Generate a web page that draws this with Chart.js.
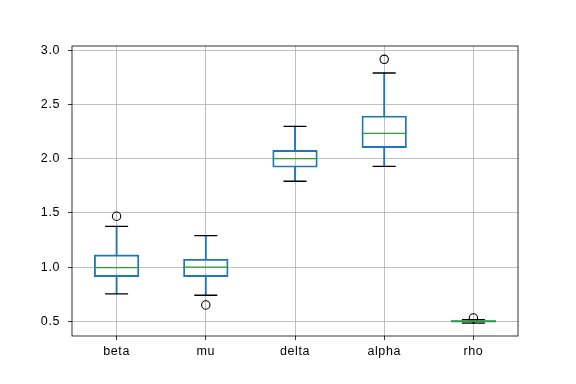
<!DOCTYPE html>
<html>
<head>
<meta charset="utf-8">
<script src="https://cdn.jsdelivr.net/npm/chart.js@4/dist/chart.umd.min.js"></script>
<style>
  html, body { margin: 0; padding: 0; background: #fff; }
</style>
</head>
<body>
<canvas id="c" width="576" height="384"></canvas>
<script>
// Box plot stats
const categories  = ['beta', 'mu', 'delta', 'alpha', 'rho'];
const whiskerLow  = [0.752, 0.740, 1.792, 1.930, 0.482];
const q1          = [0.912, 0.912, 1.921, 2.102, 0.492];
const median      = [0.995, 1.000, 2.000, 2.234, 0.500];
const q3          = [1.112, 1.072, 2.077, 2.394, 0.507];
const whiskerHigh = [1.376, 1.291, 2.299, 2.791, 0.515];
const outliers    = [1.469, 0.650, null, 2.917, 0.530];
const yTicks      = [0.5, 1.0, 1.5, 2.0, 2.5, 3.0];

const BLUE = '#1f77b4', GREEN = '#2ca02c';
const tickFont = { family: 'Liberation Sans', size: 12.5 };

// cadre noir autour de la zone du graphe (spines matplotlib)
const framePlugin = {
  id: 'frame',
  beforeInit(chart) { chart.ctx.letterSpacing = '0.6px'; },
  beforeDraw(chart) { chart.ctx.letterSpacing = '0.6px'; },
  afterDatasetsDraw(chart) {
    const { ctx, chartArea: a } = chart;
    ctx.save();
    ctx.strokeStyle = '#000';
    ctx.lineWidth = 0.8;
    ctx.strokeRect(a.left, a.top, a.right - a.left, a.bottom - a.top);
    ctx.restore();
  }
};

const pts = (arr, extra) => Object.assign({
  type: 'line', data: arr, showLine: false, fill: false,
  pointBackgroundColor: 'rgba(0,0,0,0)'
}, extra);

new Chart(document.getElementById('c').getContext('2d'), {
  type: 'bar',
  data: {
    labels: categories,
    datasets: [
      { data: categories.map((_, i) => [whiskerLow[i], q1[i]]), backgroundColor: BLUE,
        barThickness: 1.2, grouped: false, borderWidth: 0, order: 5 },
      { data: categories.map((_, i) => [q3[i], whiskerHigh[i]]), backgroundColor: BLUE,
        barThickness: 1.2, grouped: false, borderWidth: 0, order: 5 },
      { data: categories.map((_, i) => [q1[i], q3[i]]), backgroundColor: 'rgba(0,0,0,0)',
        borderColor: BLUE, borderWidth: 1.2, borderSkipped: false,
        barThickness: 44.6, grouped: false, order: 4 },
      pts(whiskerLow,  { pointStyle: 'line', pointRadius: 11.5, pointBorderColor: '#000', pointBorderWidth: 1.3, order: 3 }),
      pts(whiskerHigh, { pointStyle: 'line', pointRadius: 11.5, pointBorderColor: '#000', pointBorderWidth: 1.3, order: 3 }),
      pts(median,      { pointStyle: 'line', pointRadius: 22.3, pointBorderColor: GREEN, pointBorderWidth: 1.3, order: 1 }),
      pts(outliers,    { pointStyle: 'circle', pointRadius: 4.2, pointBorderColor: '#000', pointBorderWidth: 1.1, order: 2 })
    ]
  },
  options: {
    responsive: false,
    animation: false,
    layout: { padding: { top: 46, right: 58, left: 0, bottom: 0 } },
    plugins: { legend: { display: false }, tooltip: { enabled: false } },
    scales: {
      x: {
        offset: true,
        grid: { offset: false, color: '#b0b0b0', lineWidth: 0.8, tickColor: '#000', tickLength: 4 },
        border: { display: false },
        ticks: { color: '#000', font: tickFont, padding: 4 },
        afterFit: a => { a.height = 48; }
      },
      y: {
        min: 0.364, max: 3.04,
        grid: { color: '#b0b0b0', lineWidth: 0.8, tickColor: '#000', tickLength: 4 },
        border: { display: false },
        afterBuildTicks: a => { a.ticks = yTicks.map(v => ({ value: v })); },
        ticks: { color: '#000', font: tickFont, padding: 8, callback: v => Number(v).toFixed(1) },
        afterFit: a => { a.width = 72; }
      }
    }
  },
  plugins: [framePlugin]
});
</script>
</body>
</html>
